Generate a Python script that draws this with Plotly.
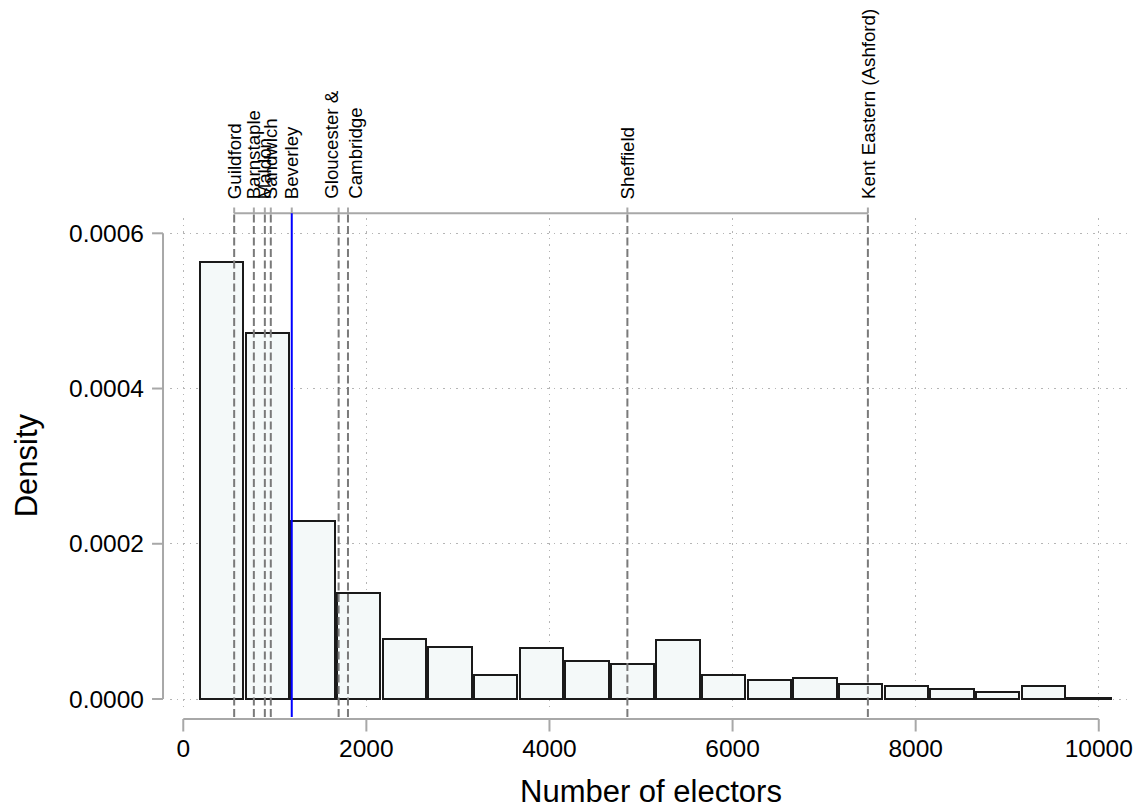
import plotly.graph_objects as go

# ---------------- data ----------------
bin_lo = 171
bin_hi = 10141
densities = [0.0005634, 0.0004719, 0.0002293, 0.0001366, 0.0000777, 0.0000674,
             0.0000309, 0.0000657, 0.0000490, 0.0000451, 0.0000756, 0.0000309,
             0.0000249, 0.0000271, 0.0000189, 0.0000167, 0.0000133, 0.0000086,
             0.0000167, 0.0000017]

place_names = ["Guildford", "Barnstaple", "Maldon", "Sandwich", "Beverley",
               "Gloucester", "Cambridge", "Sheffield", "Kent Eastern (Ashford)"]
place_values = [556, 771, 891, 956, 1185, 1697, 1799, 4851, 7478]
highlight = "Beverley"

x_ticks = [0, 2000, 4000, 6000, 8000, 10000]
y_ticks = [0.0, 0.0002, 0.0004, 0.0006]
y_tick_labels = ["0.0000", "0.0002", "0.0004", "0.0006"]

# ---------------- figure ----------------
n_bins = len(densities)
bw = (bin_hi - bin_lo) / n_bins
centers = [bin_lo + bw * (i + 0.5) for i in range(n_bins)]

FONT = "Liberation Sans, Arial, Helvetica, sans-serif"
AX = "#a8a8a8"
DASH = "#7a7a7a"

fig = go.Figure()
fig.add_trace(go.Bar(
    x=centers, y=densities, width=bw * 0.95,
    marker=dict(color="#f4f9f9", line=dict(color="#1a1a1a", width=2)),
    hoverinfo="x+y", showlegend=False,
))

# page offset (default body margin) compensation
OFF = 8
PAGE_W, PAGE_H = 1145, 809
W, H = PAGE_W - OFF, PAGE_H - OFF
# plot region in page pixel coordinates
L_, T_, R_, B_ = 170, 218, 1133, 712
ml, mt = L_ - OFF, T_ - OFF
mr, mb = W - (R_ - OFF), H - (B_ - OFF)
pw, ph = R_ - L_, B_ - T_


def px_x(p):
    return (p - L_) / pw


def px_y(p):
    return (B_ - p) / ph


shapes = []
# y axis line and ticks (offset from plot region)
shapes.append(dict(type="line", xref="paper", yref="y", x0=px_x(163), x1=px_x(163),
                   y0=y_ticks[0], y1=y_ticks[-1], line=dict(color=AX, width=2)))
for v in y_ticks:
    shapes.append(dict(type="line", xref="paper", yref="y", x0=px_x(152), x1=px_x(163),
                       y0=v, y1=v, line=dict(color=AX, width=2)))
# x axis line and ticks
shapes.append(dict(type="line", xref="x", yref="paper", x0=x_ticks[0], x1=x_ticks[-1],
                   y0=px_y(719), y1=px_y(719), line=dict(color=AX, width=2)))
for v in x_ticks:
    shapes.append(dict(type="line", xref="x", yref="paper", x0=v, x1=v,
                       y0=px_y(719), y1=px_y(731.5), line=dict(color=AX, width=2)))
# top axis for reference places
shapes.append(dict(type="line", xref="x", yref="paper", x0=min(place_values), x1=max(place_values),
                   y0=px_y(213.3), y1=px_y(213.3), line=dict(color=AX, width=2)))
for name, v in zip(place_names, place_values):
    shapes.append(dict(type="line", xref="x", yref="paper", x0=v, x1=v,
                       y0=px_y(213.3), y1=px_y(207.5), line=dict(color=AX, width=2)))
    if name == highlight:
        ln = dict(color="#0000ff", width=2)
    else:
        ln = dict(color=DASH, width=2, dash="8px,3.5px")
    shapes.append(dict(type="line", xref="x", yref="paper", x0=v, x1=v,
                       y0=px_y(717), y1=px_y(213.3), line=ln))

annotations = []
label_map = list(zip(place_names, place_values))
i = 0
while i < len(label_map):
    name, v = label_map[i]
    if name == "Gloucester" and i + 1 < len(label_map) and label_map[i + 1][0] == "Cambridge":
        text = "Gloucester &<br>Cambridge"
        xv = (v + label_map[i + 1][1]) / 2
        i += 2
    else:
        text = name
        xv = v
        i += 1
    annotations.append(dict(text=text, x=xv, xref="x", y=px_y(201), yref="paper",
                            xanchor="center", yanchor="bottom", textangle=-90,
                            showarrow=False, align="left",
                            font=dict(family=FONT, size=18.7, color="#000")))

annotations.append(dict(text="Number of electors", x=0.5, xref="paper", y=px_y(791), yref="paper",
                        xanchor="center", yanchor="middle", showarrow=False,
                        font=dict(family=FONT, size=31, color="#000")))
annotations.append(dict(text="Density", x=px_x(26), xref="paper", y=0.5, yref="paper",
                        xanchor="center", yanchor="middle", textangle=-90, showarrow=False,
                        font=dict(family=FONT, size=31, color="#000")))

px_per_unit = (1100.7 - 183.3) / 10000
x_range = [(L_ - 183.3) / px_per_unit, (R_ - 183.3) / px_per_unit]
py_per_unit = (699 - 233.3) / 0.0006
y_range = [-(B_ - 699) / py_per_unit, (699 - T_) / py_per_unit]

fig.update_layout(
    width=W, height=H, autosize=False,
    margin=dict(l=ml, r=mr, t=mt, b=mb, pad=0),
    paper_bgcolor="white", plot_bgcolor="white",
    shapes=shapes, annotations=annotations,
    bargap=0,
    font=dict(family=FONT, color="#000"),
    xaxis=dict(range=x_range, tickvals=x_ticks, ticktext=[str(t) for t in x_ticks],
               showgrid=True, gridcolor="#b5b5b5", gridwidth=1, griddash="1.5px,5px",
               zeroline=False, showline=False, ticks="", ticklabelstandoff=19,
               tickfont=dict(family=FONT, size=24.5, color="#000")),
    yaxis=dict(range=y_range, tickvals=y_ticks, ticktext=y_tick_labels,
               showgrid=True, gridcolor="#b5b5b5", gridwidth=1, griddash="1.5px,5px",
               zeroline=False, showline=False, ticks="", ticklabelstandoff=25,
               tickfont=dict(family=FONT, size=24.5, color="#000")),
)

fig.write_html("out.html")
